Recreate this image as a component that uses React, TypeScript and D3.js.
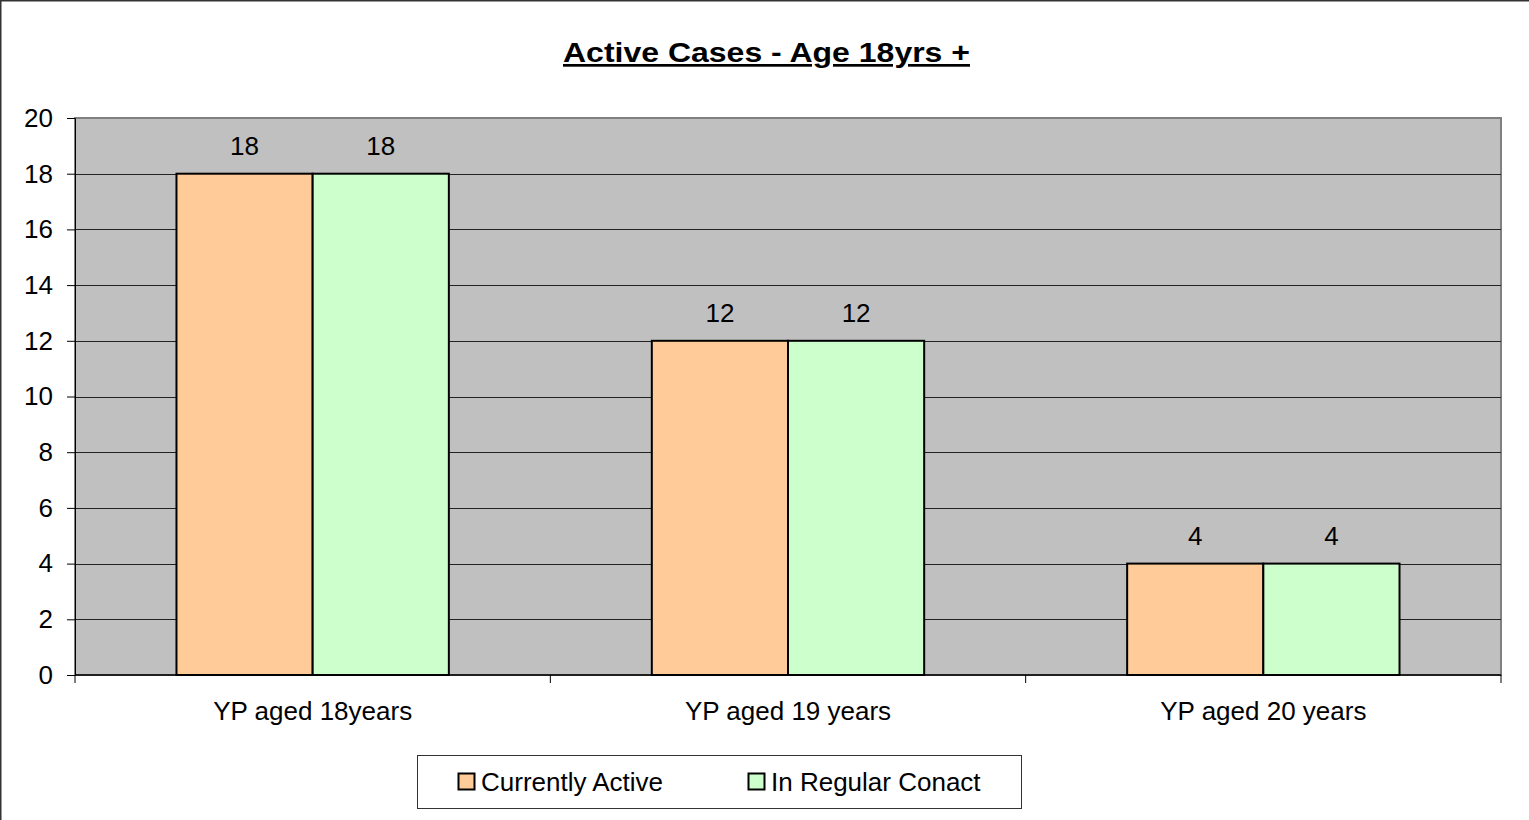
import React from "react";
import * as d3 from "d3";

const categories = ["YP aged 18years", "YP aged 19 years", "YP aged 20 years"];
const seriesNames = ["Currently Active", "In Regular Conact"];
const currentlyActive = [18, 12, 4];
const regularContact = [18, 12, 4];
const seriesColors = ["#ffcc99", "#ccffcc"];
const yTicks = [0, 2, 4, 6, 8, 10, 12, 14, 16, 18, 20];

const W = 1529;
const H = 820;
const plot = { left: 75, top: 118, right: 1501, bottom: 675 };

const App = () => {
  const svgRef = React.useRef<SVGSVGElement>(null);

  React.useEffect(() => {
    document.body.style.margin = "0";
    document.body.style.overflow = "hidden";

    const series = [currentlyActive, regularContact];
    const font = "Arial, 'Liberation Sans', sans-serif";
    const fs = 26;

    const x = d3
      .scaleBand<string>()
      .domain(categories)
      .range([plot.left, plot.right]);
    const groupW = x.bandwidth() * 0.573;
    const xInner = d3.scaleBand<number>().domain([0, 1]).range([0, groupW]);
    const y = d3.scaleLinear().domain([0, 20]).range([plot.bottom, plot.top]);
    const barX = (i: number, si: number) =>
      (x(categories[i]) as number) + (x.bandwidth() - groupW) / 2 + (xInner(si) as number);

    const svgEl = d3.select(svgRef.current);
    svgEl.selectAll("*").remove();
    const svg = svgEl.append("g");

    // outer frame (only top/left edges fall inside the picture)
    svg
      .append("rect")
      .attr("x", 0.5)
      .attr("y", 0.5)
      .attr("width", W + 10)
      .attr("height", H + 10)
      .attr("fill", "#fff")
      .attr("stroke", "#333")
      .attr("stroke-width", 2);

    // title
    svg
      .append("text")
      .attr("x", 563)
      .attr("y", 62)
      .attr("font-family", font)
      .attr("font-weight", "bold")
      .attr("font-size", 27)
      .attr("text-decoration", "underline")
      .attr("textLength", 407)
      .attr("lengthAdjust", "spacingAndGlyphs")
      .text("Active Cases - Age 18yrs +");

    // plot background
    svg
      .append("rect")
      .attr("x", plot.left)
      .attr("y", plot.top)
      .attr("width", plot.right - plot.left)
      .attr("height", plot.bottom - plot.top)
      .attr("fill", "#c0c0c0")
      .attr("stroke", "#808080")
      .attr("stroke-width", 2);

    // grid lines
    svg
      .append("g")
      .selectAll("line")
      .data(yTicks.filter((t) => t > 0 && t < 20))
      .enter()
      .append("line")
      .attr("x1", plot.left)
      .attr("x2", plot.right)
      .attr("y1", (d) => Math.round(y(d)) + 0.5)
      .attr("y2", (d) => Math.round(y(d)) + 0.5)
      .attr("stroke", "#222")
      .attr("stroke-width", 1);

    // y axis
    const yAxis = d3.axisLeft(y).tickValues(yTicks).tickSize(8).tickPadding(14);
    const yG = svg
      .append("g")
      .attr("transform", `translate(${plot.left},0)`)
      .call(yAxis);
    yG.select(".domain").attr("stroke", "#000");
    yG.selectAll("line").attr("stroke", "#000");
    yG.selectAll("text")
      .attr("font-family", font)
      .attr("font-size", fs)
      .attr("fill", "#000");

    // bars
    series.forEach((vals, si) => {
      const g = svg.append("g");
      g.selectAll("rect")
        .data(vals)
        .enter()
        .append("rect")
        .attr("x", (_, i) => barX(i, si))
        .attr("y", (d) => y(d))
        .attr("width", xInner.bandwidth())
        .attr("height", (d) => plot.bottom - y(d))
        .attr("fill", seriesColors[si])
        .attr("stroke", "#000")
        .attr("stroke-width", 2);
      g.selectAll("text")
        .data(vals)
        .enter()
        .append("text")
        .attr("x", (_, i) => barX(i, si) + xInner.bandwidth() / 2)
        .attr("y", (d) => y(d) - 19)
        .attr("text-anchor", "middle")
        .attr("font-family", font)
        .attr("font-size", fs)
        .text((d) => d);
    });

    // x axis
    const xAxisG = svg.append("g");
    xAxisG
      .append("line")
      .attr("x1", plot.left)
      .attr("x2", plot.right)
      .attr("y1", plot.bottom)
      .attr("y2", plot.bottom)
      .attr("stroke", "#000")
      .attr("stroke-width", 1.5);
    const boundaries = categories.map((c) => x(c) as number).concat([plot.right]);
    xAxisG
      .selectAll(".tick")
      .data(boundaries)
      .enter()
      .append("line")
      .attr("x1", (d) => d)
      .attr("x2", (d) => d)
      .attr("y1", plot.bottom)
      .attr("y2", plot.bottom + 8)
      .attr("stroke", "#000");
    xAxisG
      .selectAll("text")
      .data(categories)
      .enter()
      .append("text")
      .attr("x", (d) => (x(d) as number) + x.bandwidth() / 2)
      .attr("y", 720)
      .attr("text-anchor", "middle")
      .attr("font-family", font)
      .attr("font-size", fs)
      .text((d) => d);

    // legend
    const legend = svg.append("g");
    legend
      .append("rect")
      .attr("x", 417.5)
      .attr("y", 755.5)
      .attr("width", 604)
      .attr("height", 53)
      .attr("fill", "#fff")
      .attr("stroke", "#333")
      .attr("stroke-width", 1);
    const legendX = [458, 748];
    seriesNames.forEach((name, i) => {
      legend
        .append("rect")
        .attr("x", legendX[i] + 0.5)
        .attr("y", 773.5)
        .attr("width", 16)
        .attr("height", 16)
        .attr("fill", seriesColors[i])
        .attr("stroke", "#000")
        .attr("stroke-width", 2);
      legend
        .append("text")
        .attr("x", legendX[i] + 23)
        .attr("y", 791)
        .attr("font-family", font)
        .attr("font-size", fs)
        .text(name);
    });
  }, []);

  return (
    <svg
      ref={svgRef}
      width={W}
      height={H}
      style={{ position: "absolute", left: 0, top: 0 }}
    />
  );
};

export default App;
